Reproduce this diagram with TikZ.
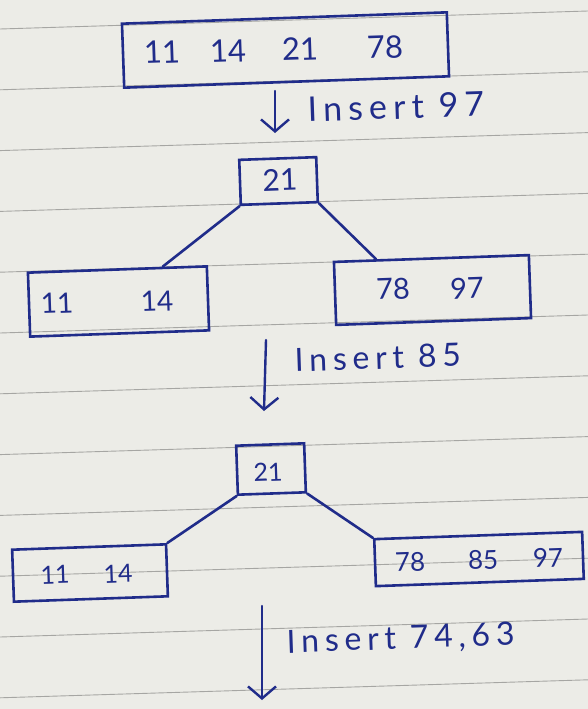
\documentclass[tikz,border=0pt]{standalone}
\usepackage{fontspec}
\newfontfamily\handkey{Lato}
\newfontfamily\handlab[LetterSpace=18]{Lato}
\usetikzlibrary{arrows.meta,calc}
\definecolor{ink}{RGB}{32,44,138}
\definecolor{paper}{RGB}{236,236,231}
\definecolor{ruling}{RGB}{120,120,118}
\begin{document}
\begin{tikzpicture}[x=1pt,y=-1pt,
  keybox/.style n args={2}{draw=ink,line width=2.6pt,minimum width=#1,minimum height=#2,inner sep=0pt,rotate=2},
  keytext/.style={text=ink,inner sep=0pt,rotate=2,font=\handkey\fontsize{#1}{#1}\selectfont},
  steplabel/.style={text=ink,inner sep=0pt,anchor=base west,rotate=2,font=\handlab\fontsize{#1}{#1}\selectfont},
  treeedge/.style={draw=ink,line width=2.6pt,line cap=round},
  flow/.style={draw=ink,line width=2.4pt,line cap=round,-{Straight Barb[length=12pt,width=28pt,line width=2.4pt]}},
  ruleline/.style={draw=ruling,line width=0.9pt,opacity=0.6}]
\useasboundingbox (0,0) rectangle (588,709);
\fill[paper] (0,0) rectangle (588,709);
\foreach \k in {0,...,11}
  \draw[ruleline] (0,{29+60.8*\k}) -- (588,{29+60.8*\k-18});

% initial node
\node[keybox={325pt}{64pt}] (top) at (285.5,50) {};
\node[keytext=31] (t11) at (162,52) {11};
\node[keytext=31] (t14) at (228,51) {14};
\node[keytext=31] (t21) at (300,49) {21};
\node[keytext=31] (t78) at (385,47) {78};

% step 1
\coordinate (a1s) at (275,91);
\coordinate (a1e) at (275,133);
\draw[flow] (a1s) -- (a1e);
\node[steplabel=34] (lab1) at (308,122) {Insert 97};

% tree after inserting 97
\node[keybox={77pt}{45pt}] (r1) at (278.5,181) {};
\node[keytext=30] (r1k) at (280,180) {21};
\node[keybox={179pt}{64pt}] (l1) at (118.5,301.5) {};
\node[keytext=28] (l1a) at (57,303) {11};
\node[keytext=28] (l1b) at (157,301) {14};
\node[keybox={195pt}{63pt}] (m1) at (432.5,290) {};
\node[keytext=29] (m1a) at (393,289) {78};
\node[keytext=29] (m1b) at (467,288) {97};
\draw[treeedge] (r1.south west) -- ($(l1.north west)!0.75!(l1.north east)$);
\draw[treeedge] (r1.south east) -- ($(m1.north west)!0.22!(m1.north east)$);

% step 2
\coordinate (a2s) at (266,340);
\coordinate (a2e) at (264,411);
\draw[flow] (a2s) -- (a2e);
\node[steplabel=32] (lab2) at (295,372) {Insert 85};

% tree after inserting 85
\node[keybox={68pt}{49pt}] (r2) at (271,469) {};
\node[keytext=25] (r2k) at (268,472) {21};
\node[keybox={154pt}{52pt}] (l2) at (90,573) {};
\node[keytext=25] (l2a) at (55,575) {11};
\node[keytext=25] (l2b) at (118,574) {14};
\node[keybox={208pt}{47pt}] (m2) at (479,559) {};
\node[keytext=26] (m2a) at (410,562) {78};
\node[keytext=26] (m2b) at (483,560) {85};
\node[keytext=26] (m2c) at (548,558) {97};
\draw[treeedge] (r2.south west) -- (l2.north east);
\draw[treeedge] (r2.south east) -- (m2.north west);

% step 3
\coordinate (a3s) at (262,606);
\coordinate (a3e) at (262,700);
\draw[flow] (a3s) -- (a3e);
\node[steplabel=32] (lab3) at (287,653) {Insert 74,63};
\end{tikzpicture}
\end{document}
